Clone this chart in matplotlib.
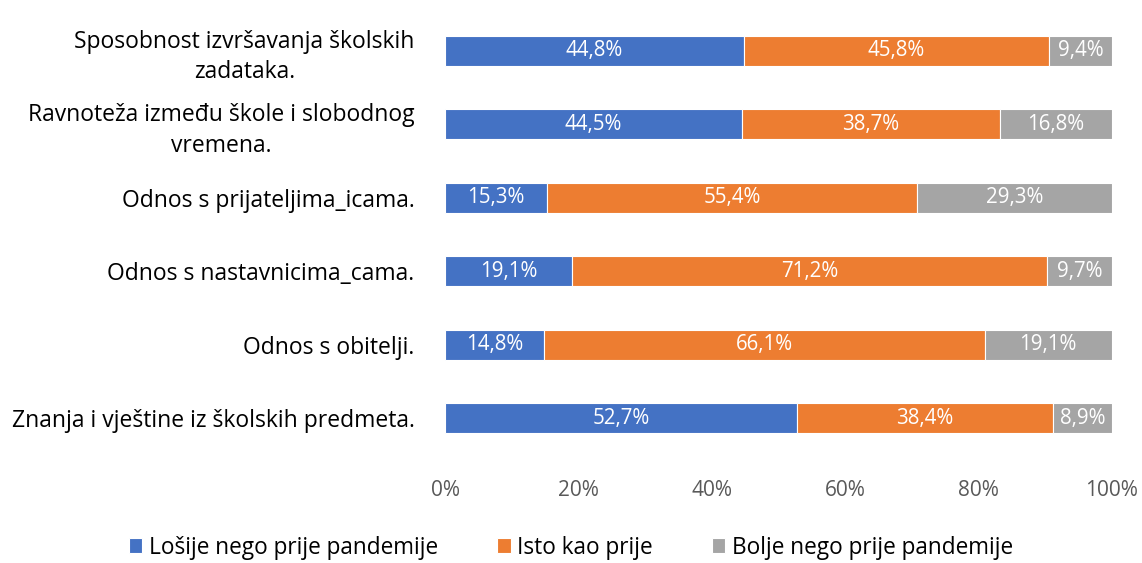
import matplotlib.pyplot as plt
import numpy as np

plt.rcParams['font.family'] = ['Open Sans', 'DejaVu Sans']

categories = [
    "Sposobnost izvršavanja školskih\nzadataka.",
    "Ravnoteža između škole i slobodnog\nvremena.",
    "Odnos s prijateljima_icama.",
    "Odnos s nastavnicima_cama.",
    "Odnos s obitelji.",
    "Znanja i vještine iz školskih predmeta.",
]
series_names = ["Lošije nego prije pandemije", "Isto kao prije", "Bolje nego prije pandemije"]
losije = [44.8, 44.5, 15.3, 19.1, 14.8, 52.7]
isto = [45.8, 38.7, 55.4, 71.2, 66.1, 38.4]
bolje = [9.4, 16.8, 29.3, 9.7, 19.1, 8.9]
colors = ["#4472C4", "#ED7D31", "#A5A5A5"]

fig = plt.figure(figsize=(11.42, 5.63), dpi=100)
ax = fig.add_axes([0.3897, 0.192, 0.584, 0.783])

y = np.arange(len(categories))
left = np.zeros(len(categories))
for name, vals, col in zip(series_names, [losije, isto, bolje], colors):
    vals = np.array(vals)
    ax.barh(y, vals, left=left, height=0.41, color=col, label=name,
            edgecolor="white", linewidth=0.8)
    for yi, l, v in zip(y, left, vals):
        ax.text(l + v / 2, yi, f"{v:.1f}%".replace(".", ","), ha="center", va="center",
                color="white", fontsize=14.8)
    left += vals

ax.set_xlim(0, 100)
ax.set_ylim(len(categories) - 0.5, -0.5)
ax.set_yticks(y)
ax.set_yticklabels(categories, fontsize=16.5, color="black", multialignment="center",
                   linespacing=1.35)
ax.set_xticks(np.arange(0, 101, 20))
ax.set_xticklabels([f"{v}%" for v in range(0, 101, 20)], fontsize=15, color="#595959")
ax.tick_params(axis="y", length=0, pad=22)
ax.tick_params(axis="x", length=0, pad=18)
for s in ax.spines.values():
    s.set_visible(False)

fig.legend(loc="lower center", bbox_to_anchor=(0.5, -0.03), ncol=3, frameon=False,
           fontsize=16.3, handlelength=0.6, handleheight=0.6, handletextpad=0.3,
           columnspacing=2.6)

fig.savefig("out.png", dpi=100)
